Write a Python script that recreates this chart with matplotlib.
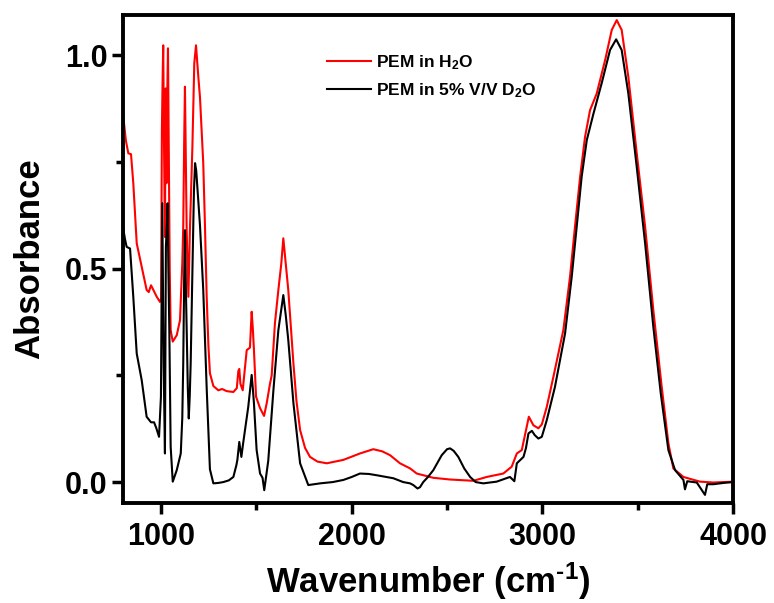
import numpy as np
import matplotlib
matplotlib.use("Agg")
import matplotlib.pyplot as plt
from matplotlib.ticker import MultipleLocator

plt.rcParams['font.family'] = ['Liberation Sans', 'DejaVu Sans']
plt.rcParams['font.weight'] = 'bold'
plt.rcParams['mathtext.fontset'] = 'custom'
plt.rcParams['mathtext.rm'] = 'Liberation Sans:bold'
plt.rcParams['mathtext.bf'] = 'Liberation Sans:bold'
plt.rcParams['mathtext.default'] = 'bf'

# PEM in H2O (red)
wn_h2o = [800, 815, 828, 842, 854, 872, 898, 924, 935, 947, 959, 977, 994, 1000,
          1004, 1008, 1011, 1015, 1020, 1024, 1028, 1032, 1036, 1040, 1045, 1050,
          1061, 1082, 1099, 1111, 1116, 1121, 1125, 1130, 1134, 1143, 1151, 1164,
          1174, 1183, 1195, 1204, 1213, 1221, 1230, 1239, 1248, 1256, 1274, 1300,
          1320, 1344, 1379, 1397, 1405, 1410, 1416, 1428, 1440, 1449, 1466, 1475,
          1481, 1487, 1498, 1519, 1540, 1554, 1571, 1580, 1597, 1615, 1630, 1641,
          1652, 1667, 1694, 1710, 1729, 1755, 1781, 1820, 1869, 1956, 2043, 2113,
          2160, 2201, 2253, 2306, 2341, 2428, 2516, 2638, 2708, 2795, 2839, 2866,
          2892, 2914, 2929, 2953, 2979, 2997, 3023, 3058, 3110, 3145, 3171, 3198,
          3224, 3250, 3285, 3329, 3364, 3390, 3416, 3451, 3495, 3539, 3582, 3626,
          3661, 3687, 3740, 3827, 3897, 4000]
abs_h2o = [0.863, 0.80, 0.770, 0.768, 0.70, 0.559, 0.504, 0.450, 0.445, 0.461,
           0.450, 0.434, 0.422, 0.43, 0.824, 0.95, 1.023, 0.80, 0.574, 0.922, 0.70,
           0.90, 1.016, 0.80, 0.50, 0.356, 0.329, 0.344, 0.379, 0.512, 0.598, 0.80,
           0.926, 0.75, 0.590, 0.434, 0.590, 0.785, 0.981, 1.023, 0.95, 0.90, 0.82,
           0.747, 0.60, 0.434, 0.32, 0.255, 0.225, 0.215, 0.218, 0.213, 0.211, 0.220,
           0.26, 0.265, 0.23, 0.215, 0.27, 0.309, 0.315, 0.399, 0.36, 0.309, 0.200,
           0.173, 0.155, 0.185, 0.230, 0.25, 0.372, 0.450, 0.51, 0.571, 0.52, 0.450,
           0.278, 0.19, 0.122, 0.08, 0.059, 0.048, 0.044, 0.052, 0.067, 0.077, 0.072,
           0.063, 0.044, 0.032, 0.020, 0.010, 0.006, 0.003, 0.012, 0.020, 0.036,
           0.067, 0.075, 0.122, 0.153, 0.133, 0.126, 0.135, 0.176, 0.247, 0.356,
           0.481, 0.598, 0.715, 0.809, 0.871, 0.910, 0.988, 1.059, 1.082, 1.059,
           0.949, 0.770, 0.598, 0.403, 0.223, 0.091, 0.032, 0.012, 0.001, -0.001,
           0.001]

# PEM in 5% V/V D2O (black)
wn_d2o = [800, 810, 819, 837, 854, 872, 898, 924, 947, 963, 975, 989, 999, 1003,
          1006, 1010, 1013, 1020, 1025, 1030, 1034, 1038, 1043, 1050, 1061, 1082,
          1103, 1111, 1116, 1121, 1125, 1130, 1134, 1140, 1145, 1150, 1155, 1165,
          1172, 1178, 1184, 1190, 1204, 1221, 1239, 1256, 1274, 1300, 1326, 1355,
          1379, 1395, 1400, 1410, 1421, 1430, 1440, 1457, 1475, 1481, 1487, 1501,
          1519, 1532, 1541, 1550, 1562, 1589, 1615, 1641, 1654, 1667, 1694, 1729,
          1772, 1834, 1900, 1956, 2000, 2043, 2090, 2131, 2218, 2270, 2306, 2323,
          2345, 2358, 2375, 2400, 2428, 2472, 2500, 2516, 2535, 2559, 2590, 2621,
          2650, 2690, 2760, 2830, 2853, 2866, 2901, 2914, 2927, 2945, 2960, 2979,
          2997, 3023, 3066, 3119, 3154, 3180, 3206, 3233, 3268, 3311, 3355, 3387,
          3416, 3451, 3495, 3539, 3582, 3621, 3661, 3696, 3740, 3748, 3760, 3810,
          3853, 3865, 3897, 3950, 4000]
abs_d2o = [0.598, 0.57, 0.551, 0.547, 0.434, 0.301, 0.239, 0.153, 0.14, 0.140,
           0.126, 0.106, 0.200, 0.45, 0.653, 0.45, 0.278, 0.067, 0.551, 0.60, 0.653,
           0.50, 0.356, 0.083, 0.001, 0.028, 0.067, 0.15, 0.278, 0.48, 0.590, 0.45,
           0.356, 0.22, 0.149, 0.20, 0.278, 0.512, 0.68, 0.747, 0.73, 0.692, 0.600,
           0.45, 0.22, 0.030, -0.003, -0.002, 0.000, 0.004, 0.012, 0.04, 0.052,
           0.094, 0.059, 0.09, 0.122, 0.176, 0.251, 0.22, 0.184, 0.075, 0.020, 0.01,
           -0.019, 0.01, 0.05, 0.215, 0.356, 0.438, 0.39, 0.333, 0.185, 0.044,
           -0.007, -0.003, 0.0, 0.005, 0.012, 0.020, 0.019, 0.016, 0.009, 0.0,
           -0.003, -0.007, -0.015, -0.012, 0.000, 0.012, 0.028, 0.063, 0.077, 0.079,
           0.073, 0.059, 0.032, 0.012, 0.0, -0.003, 0.001, 0.012, 0.002, 0.044,
           0.059, 0.08, 0.114, 0.120, 0.11, 0.102, 0.106, 0.145, 0.223, 0.348, 0.481,
           0.598, 0.715, 0.801, 0.863, 0.934, 1.012, 1.037, 1.012, 0.910, 0.738,
           0.559, 0.364, 0.208, 0.075, 0.028, 0.005, -0.017, 0.002, -0.001, -0.030,
           -0.005, -0.005, -0.002, 0.000]

labels = [r'PEM in H$_{2}$O', r'PEM in 5% V/V D$_{2}$O']

fig = plt.figure(figsize=(7.74, 6.03), dpi=100)
ax = fig.add_axes([123/774, 1 - 503/603, 610/774, 488/603])

ax.plot(wn_h2o, abs_h2o, color='#ff0000', lw=1.5, label=labels[0])
ax.plot(wn_d2o, abs_d2o, color='black', lw=1.5, label=labels[1])

ax.set_xlim(800, 4000)
ax.set_ylim(-0.049, 1.094)
ax.xaxis.set_major_locator(MultipleLocator(1000))
ax.xaxis.set_minor_locator(MultipleLocator(500))
ax.yaxis.set_major_locator(MultipleLocator(0.5))
ax.yaxis.set_minor_locator(MultipleLocator(0.25))

for s in ax.spines.values():
    s.set_linewidth(2.8)
ax.tick_params(which='major', direction='out', length=8, width=2.5, labelsize=22, pad=3)
ax.tick_params(axis='x', which='major', pad=6)
ax.tick_params(which='minor', direction='out', length=5, width=2.5)
ax.tick_params(top=False, right=False, which='both')
for t in ax.get_xticklabels() + ax.get_yticklabels():
    t.set_fontweight('bold')

ax.set_xlabel(r'Wavenumber (cm$^{\text{-1}}$)', fontsize=25, fontweight='bold', labelpad=6)
ax.set_ylabel('Absorbance', fontsize=25, fontweight='bold', labelpad=14)

leg = ax.legend(loc='upper left', bbox_to_anchor=(0.335, 0.922), frameon=False,
                prop={'size': 12.5, 'weight': 'bold'}, handlelength=2.5,
                handletextpad=0.3, labelspacing=0.55, borderpad=0, borderaxespad=0)

fig.savefig('out.png', dpi=100)
